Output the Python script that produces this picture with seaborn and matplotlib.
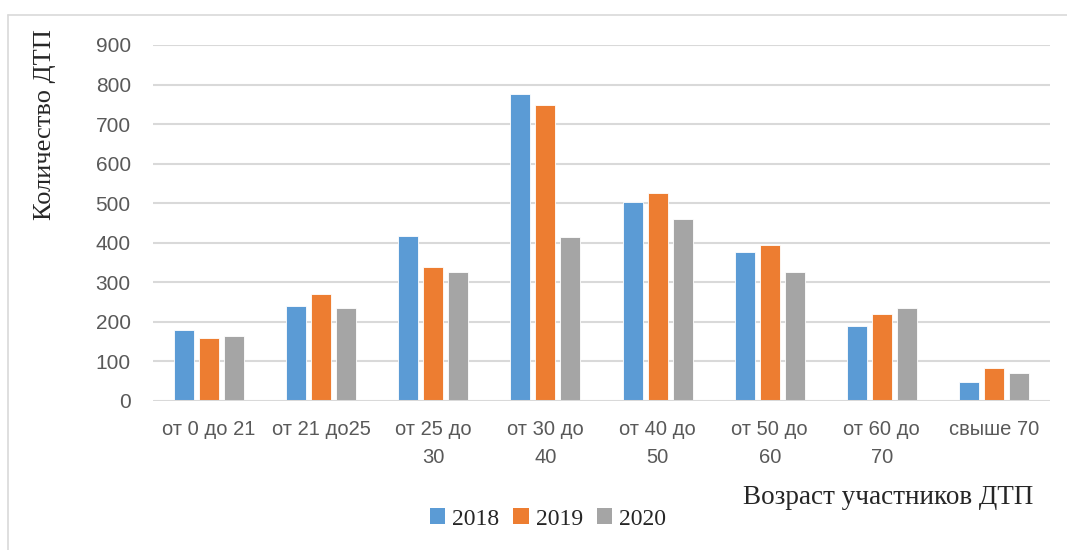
import matplotlib
matplotlib.use("Agg")
import matplotlib.pyplot as plt
from matplotlib.lines import Line2D
from matplotlib.patches import Patch
import seaborn as sns
import pandas as pd

# Age groups of road accident participants and counts per year
categories = ["от 0 до 21", "от 21 до25", "от 25 до\n30", "от 30 до\n40",
              "от 40 до\n50", "от 50 до\n60", "от 60 до\n70", "свыше 70"]
years = ["2018", "2019", "2020"]
values_2018 = [179, 241, 418, 775, 504, 377, 190, 48]
values_2019 = [160, 271, 338, 748, 526, 394, 219, 84]
values_2020 = [164, 236, 327, 414, 460, 327, 234, 72]
y_ticks = [0, 100, 200, 300, 400, 500, 600, 700, 800, 900]

colors = ["#5B9BD5", "#ED7D31", "#A5A5A5"]

df = pd.DataFrame({
    "group": categories * 3,
    "year": [y for y in years for _ in categories],
    "count": values_2018 + values_2019 + values_2020,
})

sns.set_theme(style="white")
sans = ["Liberation Sans", "DejaVu Sans"]
serif = ["Liberation Serif", "DejaVu Serif"]
plt.rcParams["font.family"] = sans

fig = plt.figure(figsize=(10.67, 5.5), dpi=100)
ax = fig.add_axes([153 / 1067, 1 - 401 / 550, 897 / 1067, 356 / 550])

sns.barplot(data=df, x="group", y="count", hue="year", palette=colors,
            order=categories, hue_order=years, width=0.67, gap=0.2,
            saturation=1, edgecolor="white", linewidth=0.6, legend=False,
            ax=ax, zorder=3)

ax.set_ylim(0, 900)
ax.set_xlim(-0.5, len(categories) - 0.5)
ax.set_yticks(y_ticks)
ax.set_yticklabels([str(t) for t in y_ticks], fontsize=15, color="#595959")
ax.set_xticks(range(len(categories)))
ax.set_xticklabels(categories, fontsize=14.5, color="#595959", linespacing=1.55)
ax.tick_params(axis="y", length=0, pad=16)
ax.tick_params(axis="x", length=0, pad=14)

for t in y_ticks[1:]:
    ax.axhline(t, color="#D9D9D9", linewidth=1.5, zorder=1)
ax.axhline(0, color="#D9D9D9", linewidth=2.2, zorder=4)
for s in ax.spines.values():
    s.set_visible(False)

ax.set_xlabel("")
ax.set_ylabel("")
fig.text(45 / 1067, 1 - 125 / 550, "Количество ДТП", rotation=90,
         ha="center", va="center", fontsize=19, family=serif, color="#262626")
fig.text(888 / 1067, 1 - 497 / 550, "Возраст участников ДТП",
         ha="center", va="center", fontsize=19.5, family=serif, color="#262626")

handles = [Patch(facecolor=c, edgecolor="none") for c in colors]
fig.legend(handles, years, loc="center", bbox_to_anchor=(548 / 1067, 1 - 519 / 550),
           ncol=3, frameon=False, handlelength=0.65, handleheight=0.65,
           handletextpad=0.3, columnspacing=0.6,
           prop={"family": serif, "size": 17})

# Chart area frame (left and top edges)
fig.add_artist(Line2D([8 / 1067, 8 / 1067], [0, 1 - 14.5 / 550],
                      transform=fig.transFigure, color="#D9D9D9", linewidth=1.2))
fig.add_artist(Line2D([8 / 1067, 1], [1 - 14.5 / 550, 1 - 14.5 / 550],
                      transform=fig.transFigure, color="#D9D9D9", linewidth=1.2))

fig.savefig("out.png", dpi=100, facecolor="white")
